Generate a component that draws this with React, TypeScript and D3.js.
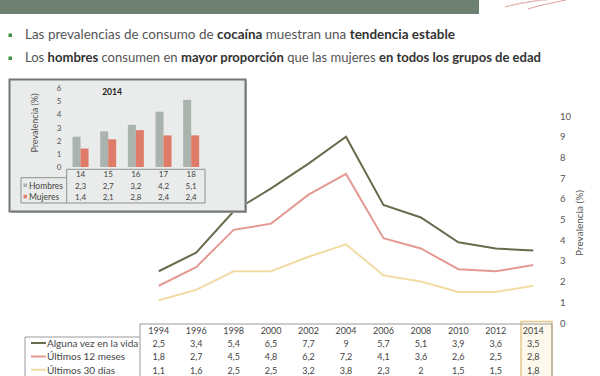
import React from "react";
import * as d3 from "d3";

const years = ["1994","1996","1998","2000","2002","2004","2006","2008","2010","2012","2014"];
const alguna = [2.5,3.4,5.4,6.5,7.7,9,5.7,5.1,3.9,3.6,3.5];
const ult12 = [1.8,2.7,4.5,4.8,6.2,7.2,4.1,3.6,2.6,2.5,2.8];
const ult30 = [1.1,1.6,2.5,2.5,3.2,3.8,2.3,2,1.5,1.5,1.8];
const seriesNames = ["Alguna vez en la vida","Últimos 12 meses","Últimos 30 días"];
const seriesColors = ["#6b6a4c","#e39a92","#f3dba4"];

const ages = ["14","15","16","17","18"];
const hombres = [2.3,2.7,3.2,4.2,5.1];
const mujeres = [1.4,2.1,2.8,2.4,2.4];
const insetNames = ["Hombres","Mujeres"];
const insetColors = ["#aab3ae","#df7b69"];

const FONT = "Lato, 'DejaVu Sans', sans-serif";
const fmt = (v: number) => String(v).replace(".", ",");

export default function App() {
  const allSeries = [alguna, ult12, ult30];
  const x = d3.scaleBand<string>().domain(years).range([140, 552]);
  const bw = x.bandwidth();
  const cx = (yr: string) => (x(yr) as number) + bw / 2;
  const y = d3.scaleLinear().domain([0, 10]).range([323, 116]);
  const line = d3.line<number>().x((_, i) => cx(years[i])).y((d) => y(d));

  const xi = d3.scaleBand<string>().domain(ages).range([66.7, 205]);
  const ibw = xi.bandwidth();
  const icx = (a: string) => (xi(a) as number) + ibw / 2;
  const yi = d3.scaleLinear().domain([0, 6]).range([167, 88]);
  const barW = 8;

  const rowY = [343.5, 357, 370.3];
  const irowY = [186, 197.3];

  return (
    <svg width={600} height={376} style={{ position: "absolute", left: 0, top: 0, background: "#fff" }} fontFamily={FONT}>
      {/* header band */}
      <rect x={0} y={0} width={479} height={14} fill="#6d8072" />
      <path d="M505,7 C520,3 530,2 540,0" stroke="#dba0a0" strokeWidth={1} fill="none" />
      <path d="M528,9 C540,5 552,3 566,0" stroke="#dba0a0" strokeWidth={1} fill="none" />
      <path d="M512,5 C525,2 535,1 548,0" stroke="#e8bcbc" strokeWidth={0.8} fill="none" />

      {/* bullets */}
      <rect x={8.5} y={33.5} width={3.5} height={3.5} fill="#3f8f3f" />
      <rect x={8.5} y={56.5} width={3.5} height={3.5} fill="#3f8f3f" />
      <text x={25} y={38.5} fontSize={12.5} fill="#555" textLength={430} lengthAdjust="spacingAndGlyphs">
        <tspan>Las prevalencias de consumo de </tspan>
        <tspan fontWeight="bold" fill="#333">cocaína</tspan>
        <tspan> muestran una </tspan>
        <tspan fontWeight="bold" fill="#333">tendencia estable</tspan>
      </text>
      <text x={25} y={61.5} fontSize={12.5} fill="#555" textLength={516} lengthAdjust="spacingAndGlyphs">
        <tspan>Los </tspan>
        <tspan fontWeight="bold" fill="#333">hombres</tspan>
        <tspan> consumen en </tspan>
        <tspan fontWeight="bold" fill="#333">mayor proporción</tspan>
        <tspan> que las mujeres </tspan>
        <tspan fontWeight="bold" fill="#333">en todos los grupos de edad</tspan>
      </text>

      {/* main lines */}
      {allSeries.map((s, k) => (
        <path key={k} d={line(s) as string} fill="none" stroke={seriesColors[k]} strokeWidth={2} />
      ))}

      {/* right axis */}
      {y.ticks(10).map((t) => (
        <text key={t} x={560} y={y(t) + 3.5} fontSize={9.5} fill="#555">{t}</text>
      ))}
      <text transform="translate(583,223) rotate(-90)" textAnchor="middle" fontSize={10} fill="#555">Prevalencia (%)</text>

      {/* main table */}
      <rect x={521} y={321.5} width={31} height={56} fill="#fdf8ec" stroke="#e6c98c" strokeWidth={1.5} />
      <line x1={140} x2={552} y1={324} y2={324} stroke="#999" />
      <line x1={140} x2={140} y1={324} y2={376} stroke="#999" />
      <line x1={552} x2={552} y1={324} y2={376} stroke="#999" />
      <line x1={25} x2={140} y1={337} y2={337} stroke="#999" />
      <line x1={25} x2={25} y1={337} y2={376} stroke="#999" />
      {years.map((yr) => (
        <text key={yr} x={cx(yr)} y={334} textAnchor="middle" fontSize={9} fill="#444">{yr}</text>
      ))}
      {allSeries.map((s, k) => (
        <g key={k}>
          <line x1={31} x2={46} y1={rowY[k] - 0.5} y2={rowY[k] - 0.5} stroke={seriesColors[k]} strokeWidth={2} />
          <text x={47} y={rowY[k] + 3.2} fontSize={10} fill="#444">{seriesNames[k]}</text>
          {s.map((v, i) => (
            <text key={i} x={cx(years[i])} y={rowY[k] + 3.2} textAnchor="middle" fontSize={9} fill="#444">{fmt(v)}</text>
          ))}
        </g>
      ))}

      {/* inset */}
      <rect x={11} y={81} width={236} height={132} fill="#b9bdbb" />
      <rect x={9.5} y={79.5} width={236} height={132} fill="#e9ecea" stroke="#737875" strokeWidth={2} />
      <text x={112} y={95} textAnchor="middle" fontSize={8.5} fontWeight="bold" fill="#222">2014</text>
      <text transform="translate(38,123) rotate(-90)" textAnchor="middle" fontSize={9} fill="#555">Prevalencia (%)</text>
      {yi.ticks(6).map((t) => (
        <text key={t} x={59} y={yi(t) + 3} textAnchor="middle" fontSize={8} fill="#555">{t}</text>
      ))}
      {ages.map((a, i) => (
        <g key={a}>
          <rect x={icx(a) - barW} y={yi(hombres[i])} width={barW} height={yi(0) - yi(hombres[i])} fill={insetColors[0]} />
          <rect x={icx(a)} y={yi(mujeres[i])} width={barW} height={yi(0) - yi(mujeres[i])} fill={insetColors[1]} />
        </g>
      ))}
      <line x1={66.7} x2={205} y1={169.3} y2={169.3} stroke="#8d918f" />
      <line x1={66.7} x2={66.7} y1={169.3} y2={203} stroke="#8d918f" />
      <line x1={205} x2={205} y1={169.3} y2={203} stroke="#8d918f" />
      <line x1={21} x2={66.7} y1={177.7} y2={177.7} stroke="#8d918f" />
      <line x1={21} x2={21} y1={177.7} y2={203} stroke="#8d918f" />
      <line x1={21} x2={205} y1={203} y2={203} stroke="#8d918f" />
      {ages.map((a) => (
        <text key={a} x={icx(a)} y={177} textAnchor="middle" fontSize={8} fill="#444">{a}</text>
      ))}
      {[hombres, mujeres].map((s, k) => (
        <g key={k}>
          <rect x={23.5} y={irowY[k] - 2.5} width={3.5} height={3.5} fill={insetColors[k]} />
          <text x={29} y={irowY[k] + 3} fontSize={8.5} fill="#444">{insetNames[k]}</text>
          {s.map((v, i) => (
            <text key={i} x={icx(ages[i])} y={irowY[k] + 3} textAnchor="middle" fontSize={8} fill="#444">{fmt(v)}</text>
          ))}
        </g>
      ))}
    </svg>
  );
}
